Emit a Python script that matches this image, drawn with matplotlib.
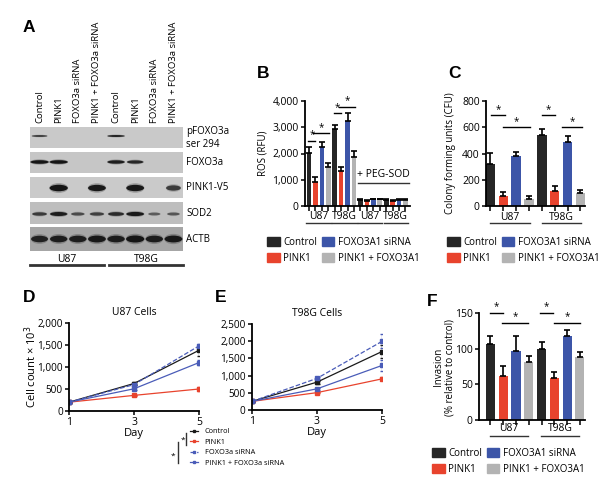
import numpy as np
import matplotlib.pyplot as plt
from matplotlib.patches import Rectangle, Ellipse, Patch
from matplotlib.lines import Line2D

plt.rcParams['font.family'] = ['Open Sans', 'DejaVu Sans']

# ---------------- data ----------------
lanes = ['Control', 'PINK1', 'FOXO3a siRNA', 'PINK1 + FOXO3a siRNA'] * 2
blot_rows = ['pFOXO3a\nser 294', 'FOXO3a', 'PINK1-V5', 'SOD2', 'ACTB']
band_pfoxo = [0.7, 0, 0, 0, 0.9, 0, 0, 0]
band_foxo = [1.0, 1.0, 0, 0, 0.9, 0.8, 0, 0]
band_pink = [0, 1.0, 0, 0.95, 0, 0.95, 0, 0.6]
band_sod2 = [0.6, 0.9, 0.45, 0.55, 0.75, 0.95, 0.3, 0.35]
band_actb = [0.85, 0.9, 0.9, 0.95, 0.9, 1.0, 0.9, 0.95]
cells = ['U87', 'T98G']

groups = ['Control', 'PINK1', 'FOXO3A1 siRNA', 'PINK1 + FOXO3A1']
colors = ['#262626', '#e8432d', '#3c55a8', '#b3b3b3']

ros = [2030, 900, 2235, 1470, 2930, 1320, 3250, 1880,
       215, 190, 254, 254, 230, 190, 230, 230]
ros_err = [230, 190, 215, 155, 155, 180, 305, 230,
           45, 35, 25, 25, 35, 35, 25, 25]
ros_ticks = [0, 1000, 2000, 3000, 4000]
ros_ticklabels = ['0', '1,000', '2,000', '3,000', '4,000']

cfu = [317, 79, 381, 53, 541, 114, 485, 102]
cfu_err = [84, 30, 33, 26, 43, 38, 51, 20]
cfu_ticks = [0, 200, 400, 600, 800]

inv = [106, 62, 97, 82, 100, 59, 118, 88]
inv_err = [12, 14, 21, 8, 10, 8, 8, 8]
inv_ticks = [0, 50, 100, 150]

days = [1, 3, 5]
line_labels = ['Control', 'PINK1', 'FOXO3a siRNA', 'PINK1 + FOXO3a siRNA']
u87_growth = [[200, 625, 1380], [200, 355, 500], [200, 600, 1480], [200, 505, 1100]]
u87_growth_err = [[10, 25, 130], [10, 15, 35], [10, 20, 50], [10, 30, 50]]
t98g_growth = [[250, 810, 1700], [250, 505, 905], [250, 920, 1995], [250, 615, 1295]]
t98g_growth_err = [[10, 40, 190], [10, 25, 40], [10, 30, 200], [10, 30, 150]]
u87_ticks = [0, 500, 1000, 1500, 2000]
u87_ticklabels = ['0', '500', '1,000', '1,500', '2,000']
t98g_ticks = [0, 500, 1000, 1500, 2000, 2500]
t98g_ticklabels = ['0', '500', '1,000', '1,500', '2,000', '2,500']

# ---------------- figure ----------------
W, H = 605, 482
fig = plt.figure(figsize=(W / 100, H / 100), dpi=100)


def box(l, t, r, b):
    return fig.add_axes([l / W, 1 - b / H, (r - l) / W, (b - t) / H])


def ftext(x, y, s, **kw):
    fig.text(x / W, 1 - y / H, s, **kw)


for letter, x, y in [('A', 23, 27), ('B', 257, 74), ('C', 448, 74),
                     ('D', 23, 298), ('E', 215, 298), ('F', 427, 301)]:
    ftext(x, y, letter, fontsize=12.5, fontweight='bold', ha='left', va='center',
          family='Liberation Sans')

# ---------------- A: western blot ----------------
ax = box(30, 127, 183, 251)
ax.set_xlim(-0.5, 7.5)
ax.set_ylim(251, 127)
ax.axis('off')
row_tb = [(127, 148), (152, 173), (177, 198), (202, 224), (227, 251)]
row_bg = ['#c9c9c9', '#c6c6c6', '#cacaca', '#bebebe', '#a6a6a6']
band_y = [136, 162, 188, 214, 239]
band_h = [2.0, 3.6, 6.5, 4.2, 7.0]
bands = [band_pfoxo, band_foxo, band_pink, band_sod2, band_actb]
for r in range(5):
    t, b = row_tb[r]
    ax.add_patch(Rectangle((-0.5, t), 8, b - t, color=row_bg[r], lw=0))
    for i, v in enumerate(bands[r]):
        if v <= 0:
            continue
        w = 0.5 + 0.45 * v
        hgt = band_h[r] * (0.55 + 0.45 * v)
        ax.add_patch(Ellipse((i, band_y[r]), w * 1.04, hgt * 1.5,
                             color='#2a2a2a', alpha=0.3 * v, lw=0))
        ax.add_patch(Ellipse((i, band_y[r]), w, hgt,
                             color='#151515', alpha=min(1, 0.35 + 0.65 * v), lw=0))
for r, lab in enumerate(blot_rows):
    ax.text(7.68, (row_tb[r][0] + row_tb[r][1]) / 2 + (0 if r else 0.5), lab,
            fontsize=7, ha='left', va='center', linespacing=1.35, clip_on=False)
for i, lab in enumerate(lanes):
    ax.text(i, 123, lab, rotation=90, fontsize=6.8, ha='center', va='bottom', clip_on=False)
for g, name in enumerate(cells):
    x0, x1 = 4 * g - 0.5 + (0.15 if g else 0), 4 * g + 3.5 - (0.15 if not g else 0)
    ax.plot([x0, x1], [265, 265], color='#333333', lw=2, clip_on=False)
    ax.text((x0 + x1) / 2, 259, name, fontsize=7.5, ha='center', va='center', clip_on=False)


# ---------------- bar charts ----------------
def bar_panel(ax, vals, errs, ticks, ticklabels, ymax):
    x = np.arange(len(vals))
    ax.bar(x, vals, width=0.72, color=[colors[i % 4] for i in x], zorder=2)
    ax.errorbar(x, vals, yerr=[np.zeros(len(vals)), errs], fmt='none', ecolor='black',
                elinewidth=1.2, capsize=2, capthick=1.2, zorder=3)
    ax.set_ylim(0, ymax)
    ax.set_yticks(ticks)
    ax.set_yticklabels(ticklabels, fontsize=7.5)
    ax.set_xticks(x)
    ax.set_xticklabels([])
    for s in ['top', 'right']:
        ax.spines[s].set_visible(False)
    for s in ['left', 'bottom']:
        ax.spines[s].set_linewidth(1.3)
    ax.tick_params(direction='out', length=3, width=1.1, pad=1.5)
    ax.tick_params(axis='x', length=3.5)


def group_label(ax, x0, x1, name, ty, ly):
    tr = ax.get_xaxis_transform()
    ax.plot([x0, x1], [ly, ly], color='#333333', lw=1, transform=tr, clip_on=False)
    ax.text((x0 + x1) / 2, ty, name, fontsize=7.5, ha='center', va='center',
            transform=tr, clip_on=False)


def sig(ax, x0, x1, y, dy):
    ax.plot([x0, x1], [y, y], color='black', lw=1, clip_on=False)
    ax.text((x0 + x1) / 2, y + dy * 0.15, '*', fontsize=7, ha='center', va='bottom',
            clip_on=False)


def bar_legend(x, y):
    handles = [Patch(color=c) for c in colors]
    fig.legend(handles, groups, loc='upper left', bbox_to_anchor=(x / W, 1 - y / H),
               ncol=2, frameon=False, fontsize=7, handlelength=1.3, handleheight=1.0,
               handletextpad=0.35, labelspacing=0.5, columnspacing=0.5,
               borderpad=0, borderaxespad=0)


# B
ax = box(305, 101, 410, 206)
bar_panel(ax, ros, ros_err, ros_ticks, ros_ticklabels, 4000)
ax.set_xlim(-0.62, 15.7)
for g, name in enumerate(cells * 2):
    group_label(ax, 4 * g - 0.4, 4 * g + 3.4, name, -0.1, -0.16)
sig(ax, -0.1, 1.0, 2490, 100)
sig(ax, 0.6, 3.1, 2770, 100)
sig(ax, 3.85, 4.9, 3530, 100)
sig(ax, 4.65, 7.2, 3780, 100)
ax.plot([7.6, 15.5], [880, 880], color='#333333', lw=1, clip_on=False)
ax.text(11.55, 1000, '+ PEG-SOD', fontsize=7.5, ha='center', va='bottom')
ftext(263, 153, 'ROS (RFU)', rotation=90, fontsize=7, ha='center', va='center')
bar_legend(267, 237)

# C
ax = box(486, 101, 585, 206)
bar_panel(ax, cfu, cfu_err, cfu_ticks, [str(t) for t in cfu_ticks], 800)
ax.set_xlim(-0.34, 7.35)
for g, name in enumerate(cells):
    group_label(ax, 4 * g, 4 * g + 3.05, name, -0.11, -0.16)
sig(ax, 0.05, 1.15, 693, 20)
sig(ax, 0.95, 3.05, 599, 20)
sig(ax, 4.0, 5.05, 693, 20)
sig(ax, 5.6, 7.1, 599, 20)
ftext(451, 153, 'Colony forming units (CFU)', rotation=90, fontsize=7,
      ha='center', va='center')
bar_legend(447, 237)

# F
ax = box(479, 313, 585, 420)
bar_panel(ax, inv, inv_err, inv_ticks, [str(t) for t in inv_ticks], 150)
ax.set_xlim(-0.9, 7.4)
for g, name in enumerate(cells):
    group_label(ax, 4 * g - 0.05, 4 * g + 2.95, name, -0.08, -0.15)
sig(ax, -0.05, 1.0, 150, 4)
sig(ax, 0.94, 2.95, 136, 4)
sig(ax, 3.85, 4.9, 150, 4)
sig(ax, 4.96, 7.0, 136, 4)
ftext(439, 367, 'Invasion', rotation=90, fontsize=7, ha='center', va='center')
ftext(450, 367, '(% relative to control)', rotation=90, fontsize=7,
      ha='center', va='center')
bar_legend(432, 448)

# ---------------- D / E: growth curves ----------------
line_colors = ['#1a1a1a', '#e8432d', '#4a5cb8', '#4a5cb8']
line_styles = ['-', '-', '--', '-']


def growth(ax, data, errs, ticks, ticklabels, ymax, title):
    for k in range(4):
        ax.errorbar(days, data[k], yerr=errs[k], color=line_colors[k], ls=line_styles[k],
                    lw=0.9, marker='s', ms=2.2, capsize=1.8, elinewidth=0.9)
    ax.set_xlim(1, 5)
    ax.set_ylim(0, ymax)
    ax.set_xticks(days)
    ax.set_xticklabels([str(d) for d in days], fontsize=7.5)
    ax.set_yticks(ticks)
    ax.set_yticklabels(ticklabels, fontsize=7.2)
    for s in ['top', 'right']:
        ax.spines[s].set_visible(False)
    for s in ['left', 'bottom']:
        ax.spines[s].set_linewidth(1.3)
    ax.tick_params(direction='out', length=3, width=1.1, pad=1.5)
    ax.set_title(title, fontsize=7.5, pad=6)
    ax.set_xlabel('Day', fontsize=8, labelpad=0)


ax = box(69, 323, 199, 411)
growth(ax, u87_growth, u87_growth_err, u87_ticks, u87_ticklabels, 2000, 'U87 Cells')
ftext(31, 367, 'Cell count × 10$^3$', rotation=90, fontsize=8, ha='center', va='center')

ax = box(252, 324, 382, 410)
growth(ax, t98g_growth, t98g_growth_err, t98g_ticks, t98g_ticklabels, 2500, 'T98G Cells')

handles = [Line2D([], [], color=line_colors[k], ls=line_styles[k], lw=0.9,
                  marker='s', ms=1.6) for k in range(4)]
fig.legend(handles, line_labels, loc='upper left', bbox_to_anchor=(190 / W, 1 - 428 / H),
           frameon=False, fontsize=5.3, handlelength=1.1, handletextpad=0.9,
           labelspacing=0.45, borderpad=0, borderaxespad=0)
# significance brackets next to the legend
fig.add_artist(Line2D([186 / W, 186 / W], [1 - 433 / H, 1 - 445 / H], color='#333333', lw=1))
fig.add_artist(Line2D([178 / W, 178 / W], [1 - 442 / H, 1 - 463 / H], color='#333333', lw=1))
ftext(183, 440, '*', fontsize=6, ha='center', va='center')
ftext(173, 456, '*', fontsize=6, ha='center', va='center')

fig.savefig('out.png', dpi=100)
